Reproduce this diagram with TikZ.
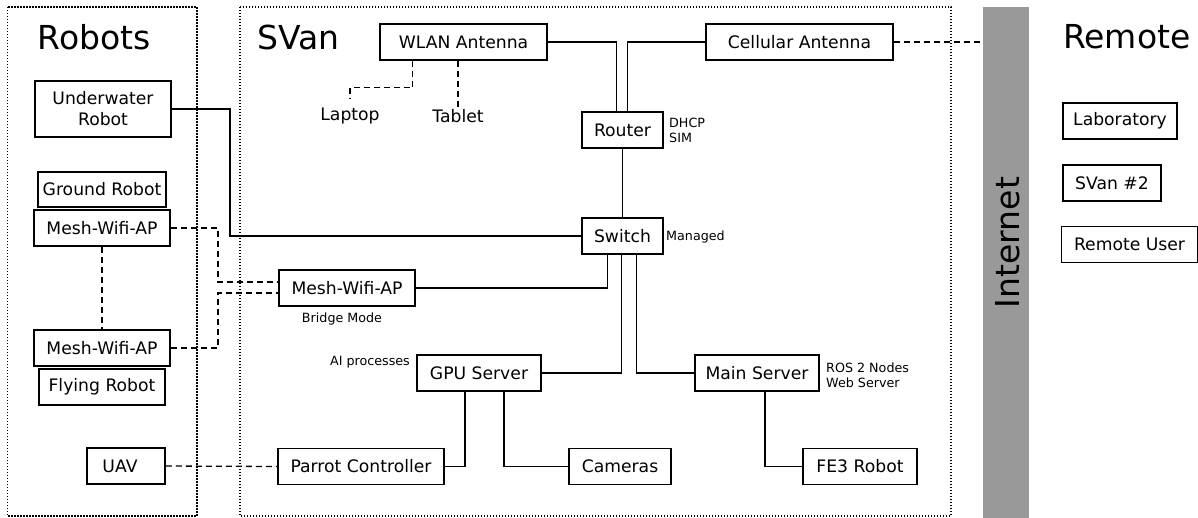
\documentclass[tikz,border=0pt]{standalone}
\usepackage{fontspec}
\setmainfont{DejaVu Sans}
\definecolor{inetgray}{HTML}{999999}

\begin{document}
\begin{tikzpicture}[
        x=1pt, y=-1pt,
        box/.style={draw, line width=1.5pt, minimum height=36, inner sep=0pt,
                    font=\fontsize{17.2}{21}\selectfont},
        plain/.style={inner sep=2pt, font=\fontsize{17.2}{21}\selectfont},
        note/.style={inner sep=2pt, align=left, font=\fontsize{12.7}{15.2}\selectfont},
        title/.style={inner sep=0pt, font=\fontsize{33}{40}\selectfont},
        frame/.style={line width=1.3pt, dash pattern=on 1.3pt off 1.7pt},
        wire/.style={line width=1.3pt},
        radio/.style={line width=1.3pt, dash pattern=on 6pt off 4pt},
    ]
        \useasboundingbox (0,0) rectangle (1198,517);

        % areas
        \draw[frame] (7.5,7) rectangle (197,516);
        \draw[frame] (240,7) rectangle (951,516);
        \node[fill=inetgray, minimum width=46, minimum height=511, inner sep=0pt]
            (inet) at (1006,262.5) {};
        \node[title, rotate=90] (inetlabel) at (1007.5,242.5) {Internet};

        \node[title] (robots) at (94,37) {Robots};
        \node[title] (svan) at (298.5,37) {SVan};
        \node[title, anchor=west] (remote) at (1063,37) {Remote};

        % robots
        \node[box, minimum width=136, minimum height=56, align=center]
            (uw) at (103,109) {Underwater\\Robot};
        \node[box, minimum width=128, minimum height=35] (ground) at (102,189.5) {Ground Robot};
        \node[box, minimum width=136] (mesha) at (102,228) {Mesh-Wifi-AP};
        \node[box, minimum width=136] (meshb) at (102,348) {Mesh-Wifi-AP};
        \node[box, minimum width=126] (flying) at (102,387) {Flying Robot};
        \node[box, minimum width=78] (uav) at (126,466) {UAV\hspace*{12pt}};

        % van
        \node[box, minimum width=167] (wlan) at (463.5,42) {WLAN Antenna};
        \node[box, minimum width=187] (cell) at (799.5,42) {Cellular Antenna};
        \node[plain] (laptop) at (350,116) {Laptop};
        \node[plain] (tablet) at (458,116) {Tablet};
        \node[box, minimum width=81] (router) at (622.5,130) {Router};
        \node[box, minimum width=81] (switch) at (622.5,236) {Switch};
        \node[box, minimum width=136] (bridge) at (347,288) {Mesh-Wifi-AP};
        \node[box, minimum width=124] (gpu) at (479,373) {GPU Server};
        \node[box, minimum width=124] (main) at (757,373) {Main Server};
        \node[box, minimum width=166] (parrot) at (361,466.5) {Parrot Controller};
        \node[box, minimum width=102] (cameras) at (620,466.5) {Cameras};
        \node[box, minimum width=114] (fe3) at (860,466.5) {FE3 Robot};

        \node[note, anchor=west] (routernote) at (667,130) {DHCP\\SIM};
        \node[note, anchor=west] (switchnote) at (664,237) {Managed};
        \node[note] (bridgenote) at (342,319) {Bridge Mode};
        \node[note, anchor=east] (gpunote) at (412,362) {AI processes};
        \node[note, anchor=west] (mainnote) at (824,375) {ROS 2 Nodes\\Web Server};

        % remote
        \node[box, minimum width=114] (lab) at (1120,121) {Laboratory};
        \node[box, minimum width=98] (svantwo) at (1112,183) {SVan \#2};
        \node[box, minimum width=136] (ruser) at (1129.5,244.5) {Remote User};

        % cables
        \draw[wire] (wlan.east) -| ([xshift=-6]router.north);
        \draw[wire] (cell.west) -| ([xshift=5]router.north);
        \draw[wire] (router) -- (switch);
        \draw[wire] (uw.east) -- (230,109) |- (switch.west);
        \draw[wire] (bridge.east) -| ([xshift=-15]switch.south);
        \draw[wire] (gpu.east) -| ([xshift=-1]switch.south);
        \draw[wire] (main.west) -| ([xshift=14]switch.south);
        \draw[wire] ([xshift=-14]gpu.south) |- (parrot.east);
        \draw[wire] ([xshift=25]gpu.south) |- (cameras.west);
        \draw[wire] ([xshift=8]main.south) |- (fe3.west);

        % wireless
        \draw[radio] ([xshift=-51]wlan.south) -- ++(0,27) -| ([yshift=7]laptop.north);
        \draw[radio] (wlan.south -| tablet.north) -- (tablet.north);
        \draw[radio] (cell.east) -- (cell.east -| inet.west);
        \draw[radio] (mesha.south) -- (meshb.north);
        \draw[radio] (mesha.east) -- (218,228) |- ([yshift=6]bridge.west);
        \draw[radio] (meshb.east) -- (218,348) |- ([yshift=-5]bridge.west);
        \draw[radio] (uav.east) -- (parrot.west);
    \end{tikzpicture}
\end{document}
